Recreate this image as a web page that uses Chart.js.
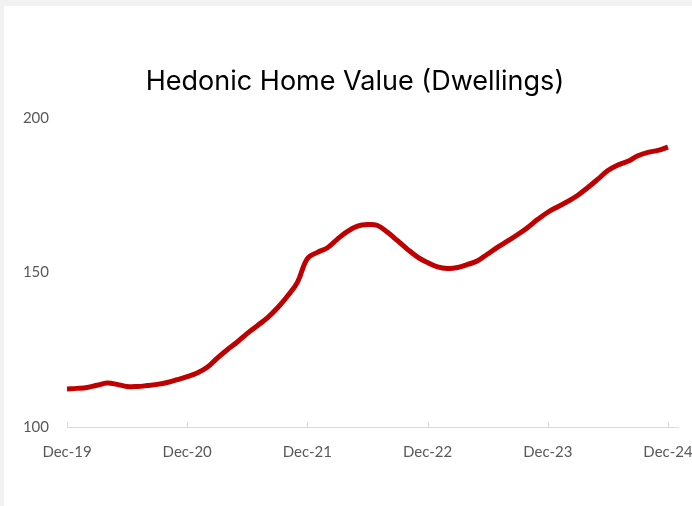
<!DOCTYPE html>
<html>
<head>
<meta charset="utf-8">
<script src="https://cdn.jsdelivr.net/npm/chart.js@4.4.1/dist/chart.umd.min.js"></script>
<style>
html,body{margin:0;padding:0;background:#f2f2f2;width:692px;height:506px;overflow:hidden}
#panel{position:absolute;left:4px;top:6px;width:688px;height:500px;background:#fff}
</style>
</head>
<body>
<div id="panel"><canvas id="c" width="688" height="500"></canvas></div>
<script>
// monthly, Dec-19 .. Dec-24 (plus one empty slot so the axis runs a bit past Dec-24)
let months=["Dec-19","Jan-20","Feb-20","Mar-20","Apr-20","May-20","Jun-20","Jul-20","Aug-20","Sep-20","Oct-20","Nov-20",
"Dec-20","Jan-21","Feb-21","Mar-21","Apr-21","May-21","Jun-21","Jul-21","Aug-21","Sep-21","Oct-21","Nov-21",
"Dec-21","Jan-22","Feb-22","Mar-22","Apr-22","May-22","Jun-22","Jul-22","Aug-22","Sep-22","Oct-22","Nov-22",
"Dec-22","Jan-23","Feb-23","Mar-23","Apr-23","May-23","Jun-23","Jul-23","Aug-23","Sep-23","Oct-23","Nov-23",
"Dec-23","Jan-24","Feb-24","Mar-24","Apr-24","May-24","Jun-24","Jul-24","Aug-24","Sep-24","Oct-24","Nov-24",
"Dec-24","Jan-25"]

let homeValue=[112.3,112.5,112.8,113.5,114.2,113.8,113.1,113.1,113.4,113.8,114.4,115.3,
116.3,117.5,119.3,122.3,125.0,127.5,130.3,132.8,135.3,138.5,142.3,146.8,
154.5,156.5,158.0,160.8,163.3,165.0,165.5,165.2,163.0,160.3,157.5,155.0,
153.2,151.8,151.3,151.6,152.6,153.8,156.0,158.2,160.2,162.3,164.6,167.2,
169.5,171.3,173.0,175.0,177.5,180.2,183.0,184.8,186.0,187.8,188.9,189.5,
190.6,null]

let yTicks=[100,150,200]

let chartTitle="Hedonic Home Value (Dwellings)"

// title drawn a little right of canvas centre, like the excel original
let titlePlugin={
id:"titlePlugin",
afterDraw(ch){
let ctx=ch.ctx
ctx.save()
ctx.fillStyle="#000"
ctx.font="400 27px Inter"
ctx.textAlign="center"
ctx.textBaseline="middle"
ctx.fillText(chartTitle,351,76)
ctx.restore()
}
}

// excel style tick marks pointing up from the axis line
let upTicks={
id:"upTicks",
afterDraw(ch){
let sc=ch.scales.x
let ctx=ch.ctx
ctx.save()
ctx.strokeStyle="#d9d9d9"
ctx.lineWidth=1
sc.ticks.forEach((t,i)=>{
if(i%12!==0)return
let x=Math.round(sc.getPixelForTick(i))+0.5
ctx.beginPath()
ctx.moveTo(x,sc.top)
ctx.lineTo(x,sc.top-5)
ctx.stroke()
})
ctx.restore()
}
}

new Chart(document.getElementById("c"),{
type:"line",
data:{
labels:months,
datasets:[{
label:"Hedonic Home Value",
data:homeValue,
borderColor:"#c00000",
borderWidth:5,
tension:0.4,
pointRadius:0,
fill:false
}]
},
options:{
responsive:false,
animation:false,
layout:{padding:{left:0,right:14,top:112,bottom:0}},
plugins:{
legend:{display:false},
tooltip:{enabled:false},
title:{display:false}
},
scales:{
x:{
grid:{display:false},
border:{display:true,color:"#d9d9d9",width:1},
ticks:{
autoSkip:false,
maxRotation:0,
color:"#595959",
font:{family:"Lato",size:15},
padding:8,
callback:function(v,i){return i%12===0?months[i]:""}
},
afterFit(s){s.height=79}
},
y:{
min:100,max:200,
grid:{display:false},
border:{display:false},
afterBuildTicks(s){s.ticks=yTicks.map(v=>({value:v}))},
ticks:{color:"#595959",font:{family:"Lato",size:15},padding:10},
afterFit(s){s.width=63}
}
}
},
plugins:[upTicks,titlePlugin]
})
</script>
</body>
</html>
